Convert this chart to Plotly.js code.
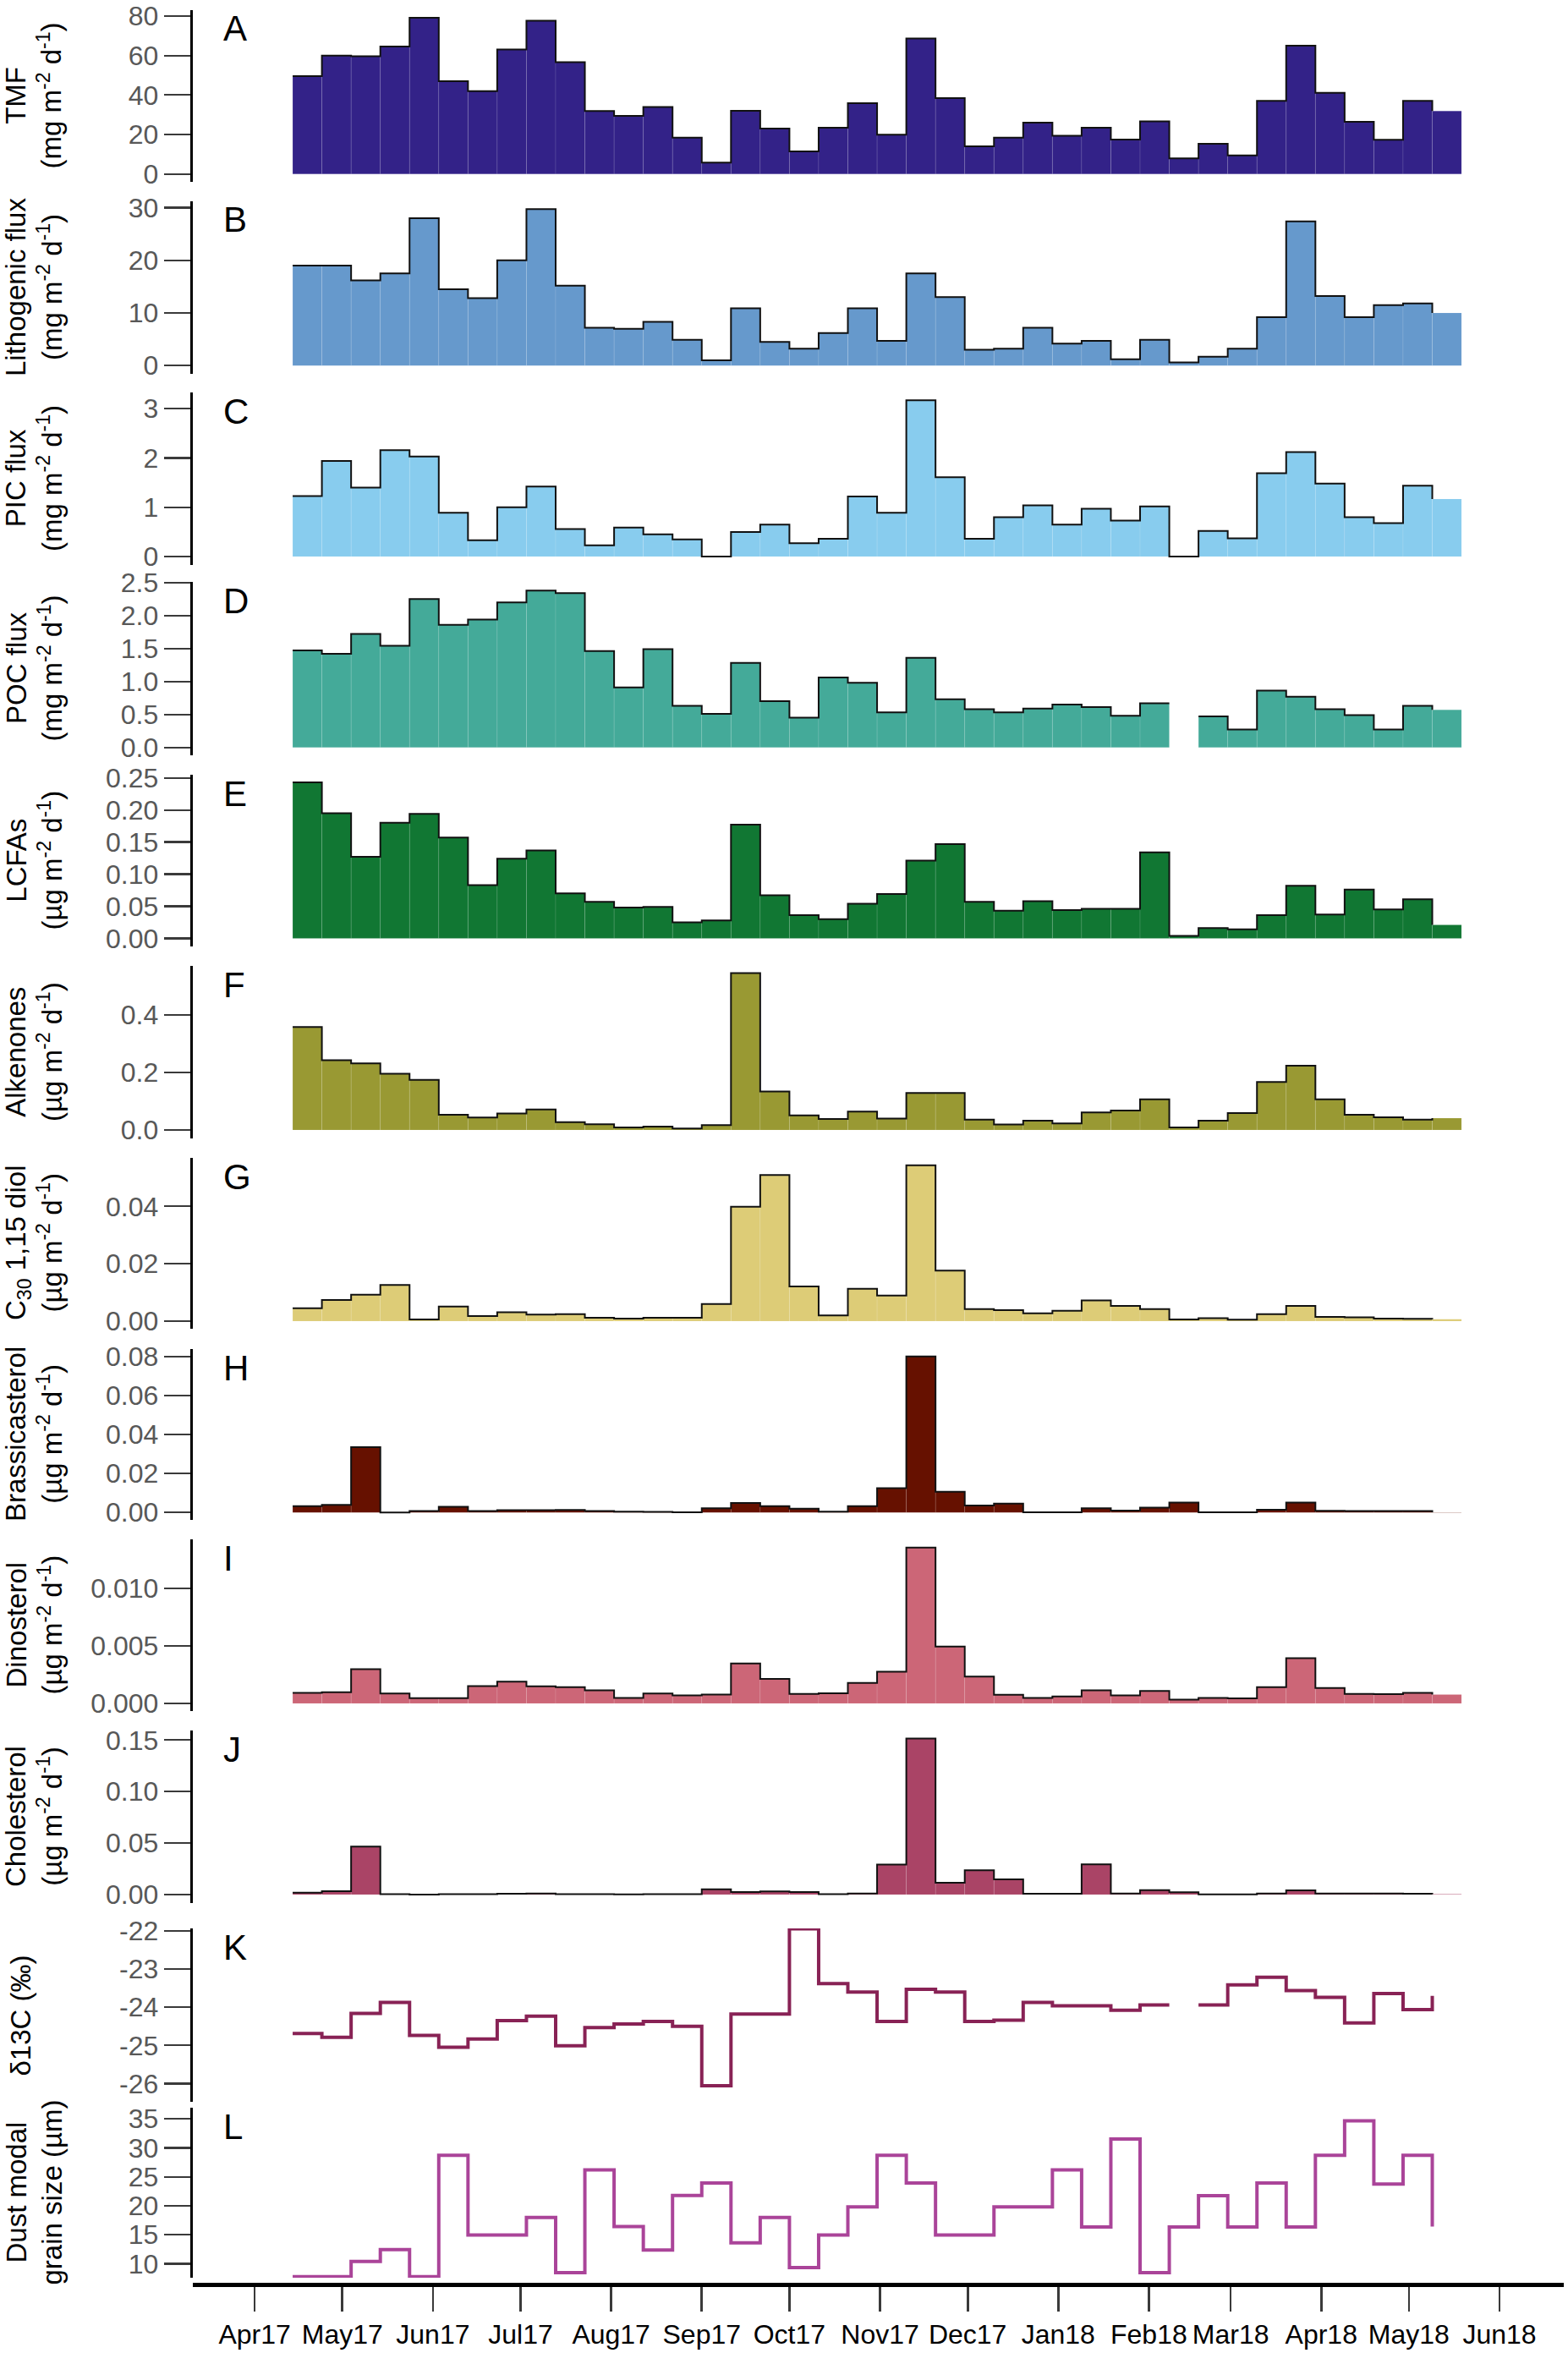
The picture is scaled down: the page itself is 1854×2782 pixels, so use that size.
<!DOCTYPE html>
<html>
<head>
<meta charset="utf-8">
<script src="https://cdn.plot.ly/plotly-3.0.1.min.js"></script>
<style>html,body{margin:0;padding:0;background:#fff;}#chart{width:1854px;height:2782px;}</style>
</head>
<body>
<div id="chart"></div>
<script>
// ---- sampling intervals (start dates of 10-day cups) ----
const binStarts = ['2017-04-14','2017-04-24','2017-05-04','2017-05-14','2017-05-24','2017-06-03','2017-06-13','2017-06-23',
  '2017-07-03','2017-07-13','2017-07-23','2017-08-02','2017-08-12','2017-08-22','2017-09-01','2017-09-11','2017-09-21',
  '2017-10-01','2017-10-11','2017-10-21','2017-10-31','2017-11-10','2017-11-20','2017-11-30','2017-12-10','2017-12-20',
  '2017-12-30','2018-01-09','2018-01-19','2018-01-29','2018-02-08','2018-02-18','2018-02-28','2018-03-10','2018-03-20',
  '2018-03-30','2018-04-09','2018-04-19','2018-04-29','2018-05-09'];

// ---- series values ----
const tmf = [49.6,60,59.6,64.6,79.1,47,42,63.1,77.6,56.6,31.9,29.4,33.9,18.4,5.7,32,23,11.4,23.4,35.9,19.9,68.6,38.4,14,18.4,26,19.4,23.4,17.4,26.6,7.9,15.3,9.4,37,65,41.1,26.4,17.3,37,31.9];
const lithogenic = [19.0,19.0,16.2,17.5,28.0,14.5,12.8,20.0,29.7,15.2,7.2,7.0,8.3,4.9,1.0,10.9,4.5,3.2,6.2,10.9,4.7,17.5,13.0,3.0,3.2,7.2,4.2,4.7,1.2,4.9,0.6,1.7,3.2,9.2,27.4,13.2,9.2,11.5,11.8,10.0];
const pic = [1.23,1.94,1.40,2.16,2.03,0.89,0.33,1.0,1.42,0.56,0.23,0.59,0.45,0.35,0.0,0.50,0.65,0.27,0.36,1.22,0.89,3.17,1.61,0.36,0.80,1.04,0.65,0.97,0.73,1.02,0.0,0.52,0.37,1.69,2.12,1.48,0.80,0.68,1.44,1.17];
const poc = [1.47,1.42,1.72,1.54,2.25,1.86,1.94,2.20,2.38,2.34,1.46,0.91,1.49,0.63,0.51,1.28,0.70,0.45,1.06,0.98,0.53,1.36,0.73,0.58,0.53,0.59,0.65,0.61,0.48,0.67,null,0.47,0.27,0.86,0.77,0.58,0.49,0.27,0.63,0.57];
const lcfas = [0.243,0.195,0.127,0.180,0.194,0.157,0.083,0.124,0.137,0.070,0.057,0.048,0.049,0.025,0.028,0.177,0.067,0.036,0.030,0.054,0.069,0.121,0.147,0.057,0.043,0.058,0.044,0.046,0.046,0.134,0.004,0.016,0.014,0.036,0.082,0.037,0.076,0.045,0.061,0.021];
const alkenones = [0.358,0.243,0.232,0.196,0.174,0.053,0.043,0.057,0.071,0.027,0.020,0.009,0.012,0.005,0.017,0.546,0.134,0.051,0.038,0.064,0.040,0.129,0.129,0.036,0.019,0.032,0.023,0.061,0.068,0.107,0.009,0.032,0.059,0.167,0.224,0.107,0.053,0.044,0.036,0.041];
const diol = [0.0045,0.0074,0.0092,0.0126,0.0006,0.0051,0.0018,0.0031,0.0023,0.0024,0.0012,0.0009,0.0012,0.0012,0.0060,0.0399,0.0509,0.0121,0.0020,0.0113,0.0089,0.0543,0.0176,0.0042,0.0038,0.0027,0.0036,0.0072,0.0053,0.0042,0.0006,0.0010,0.0005,0.0024,0.0053,0.0015,0.0013,0.0009,0.0008,0.0007];
const brassicasterol = [0.0032,0.0039,0.0335,0.0,0.0007,0.0029,0.0007,0.0012,0.0012,0.0013,0.0007,0.0004,0.0003,0.0001,0.0022,0.0049,0.0033,0.0019,0.0004,0.0032,0.0125,0.080,0.0106,0.0036,0.0046,0.0001,0.0001,0.0022,0.0010,0.0025,0.0051,0.0001,0.0001,0.0014,0.0051,0.0009,0.0007,0.0007,0.0007,0.0001];
const dinosterol = [0.00093,0.00098,0.00299,0.00086,0.00047,0.00047,0.00152,0.00189,0.0015,0.00142,0.00115,0.00049,0.00086,0.00071,0.00078,0.00348,0.00213,0.00083,0.00088,0.00179,0.00277,0.01358,0.00495,0.00235,0.00076,0.00049,0.00061,0.00115,0.00071,0.00108,0.00034,0.00049,0.00044,0.00142,0.00395,0.00135,0.00083,0.00081,0.00093,0.00078];
const cholesterol = [0.0019,0.0033,0.0467,0.0005,0.0,0.0005,0.0005,0.0008,0.0011,0.0005,0.0005,0.0003,0.0005,0.0005,0.0052,0.0025,0.0030,0.0025,0.0005,0.0011,0.0292,0.1516,0.0115,0.0236,0.0147,0.0008,0.0008,0.0293,0.0011,0.0044,0.0022,0.0003,0.0003,0.0011,0.0041,0.0011,0.0011,0.0011,0.0008,0.0005];
const d13c = [-24.69,-24.79,-24.16,-23.87,-24.74,-25.05,-24.83,-24.35,-24.23,-25.01,-24.53,-24.44,-24.37,-24.5,-26.06,-24.18,-24.18,-21.94,-23.38,-23.6,-24.37,-23.53,-23.6,-24.37,-24.34,-23.87,-23.96,-23.96,-24.08,-23.94,null,-23.94,-23.41,-23.21,-23.56,-23.74,-24.41,-23.64,-24.06,-23.7];
const grainSize = [7.77,7.77,10.39,12.43,7.77,28.74,14.95,14.95,18.0,8.45,26.2,16.4,12.38,21.8,23.93,13.6,18.0,9.32,14.95,19.8,28.74,23.93,14.95,14.95,19.8,19.8,26.2,16.36,31.55,8.45,16.36,21.75,16.36,23.93,16.36,28.74,34.66,23.74,28.74,16.4];

// ---- axis tick labels ----
const monthTicks = ['2017-04-01','2017-05-01','2017-06-01','2017-07-01','2017-08-01','2017-09-01','2017-10-01','2017-11-01',
  '2017-12-01','2018-01-01','2018-02-01','2018-03-01','2018-04-01','2018-05-01','2018-06-01'];
const monthLabels = ['Apr17','May17','Jun17','Jul17','Aug17','Sep17','Oct17','Nov17','Dec17','Jan18','Feb18','Mar18','Apr18','May18','Jun18'];
const panelLetters = ['A','B','C','D','E','F','G','H','I','J','K','L'];
const panelTitles = [
  'TMF<br>(mg m<sup>-2</sup> d<sup>-1</sup>)',
  'Lithogenic flux<br>(mg m<sup>-2</sup> d<sup>-1</sup>)',
  'PIC flux<br>(mg m<sup>-2</sup> d<sup>-1</sup>)',
  'POC flux<br>(mg m<sup>-2</sup> d<sup>-1</sup>)',
  'LCFAs<br>(µg m<sup>-2</sup> d<sup>-1</sup>)',
  'Alkenones<br>(µg m<sup>-2</sup> d<sup>-1</sup>)',
  'C<sub>30</sub> 1,15 diol<br>(µg m<sup>-2</sup> d<sup>-1</sup>)',
  'Brassicasterol<br>(µg m<sup>-2</sup> d<sup>-1</sup>)',
  'Dinosterol<br>(µg m<sup>-2</sup> d<sup>-1</sup>)',
  'Cholesterol<br>(µg m<sup>-2</sup> d<sup>-1</sup>)',
  'δ13C (‰)',
  'Dust modal<br>grain size (µm)'
];
const tickVals = [
  [0,20,40,60,80],[0,10,20,30],[0,1,2,3],[0,0.5,1,1.5,2,2.5],[0,0.05,0.1,0.15,0.2,0.25],[0,0.2,0.4],
  [0,0.02,0.04],[0,0.02,0.04,0.06,0.08],[0,0.005,0.01],[0,0.05,0.1,0.15],[-26,-25,-24,-23,-22],[10,15,20,25,30,35]
];
const tickText = [
  ['0','20','40','60','80'],['0','10','20','30'],['0','1','2','3'],['0.0','0.5','1.0','1.5','2.0','2.5'],
  ['0.00','0.05','0.10','0.15','0.20','0.25'],['0.0','0.2','0.4'],['0.00','0.02','0.04'],
  ['0.00','0.02','0.04','0.06','0.08'],['0.000','0.005','0.010'],['0.00','0.05','0.10','0.15'],
  ['-26','-25','-24','-23','-22'],['10','15','20','25','30','35']
];

// ---- styling / layout (not data) ----
const series = [tmf,lithogenic,pic,poc,lcfas,alkenones,diol,brassicasterol,dinosterol,cholesterol,d13c,grainSize];
const colors = ['#332288','#6699CC','#88CCEE','#44AA99','#117733','#999933','#DDCC77','#661100','#CC6677','#AA4466','#882255','#AA4499'];
const isBar = [true,true,true,true,true,true,true,true,true,true,false,false];
const yRanges = [[-4.0,83.0],[-1.56,31.2],[-0.17,3.33],[-0.12,2.51],[-0.0126,0.2549],[-0.0295,0.571],
  [-0.00265,0.0569],[-0.0038,0.0838],[-0.00066,0.01429],[-0.0082,0.1593],[-26.48,-21.93],[7.58,36.94]];
const pxBounds = [[12,215],[238,442],[464,668],[688,893],[916,1119],[1142,1346],[1369,1571],[1595,1797],[1820,2023],[2046,2250],[2280,2485],[2492,2693]];

const W = 1854, H = 2782, ML = 228, MR = 5, MT = 0, MB = 81;
const PH = H - MT - MB, PW = W - ML - MR;
const TXT = '"Liberation Sans", Arial, "DejaVu Sans", sans-serif';

function stepLine(vals){
  const xs = [], ys = [];
  for (let i = 0; i < vals.length; i++){
    xs.push(binStarts[i]); ys.push(vals[i]);
    if (vals[i] !== null && i + 1 < vals.length && vals[i+1] === null){
      xs.push(binStarts[i+1]); ys.push(vals[i]);
    }
  }
  return {xs, ys};
}

const traces = [];
const layout = {
  width: W, height: H,
  margin: {l: ML, r: MR, t: MT, b: MB, pad: 0},
  paper_bgcolor: '#fff', plot_bgcolor: 'rgba(0,0,0,0)',
  showlegend: false, barmode: 'overlay', bargap: 0,
  font: {family: TXT, color: '#000'},
  xaxis: {
    type: 'date', range: ['2017-03-10 20:00', '2018-06-23'],
    anchor: 'free', position: 0,
    showline: true, linewidth: 4.7, linecolor: '#000',
    ticks: 'outside', ticklen: 29, tickwidth: 2.7, tickcolor: '#3a3a3a',
    tickvals: monthTicks, ticktext: monthLabels,
    tickfont: {family: TXT, size: 32, color: '#000'},
    showgrid: false, zeroline: false
  },
  annotations: []
};

series.forEach((vals, k) => {
  const n = k + 1;
  const yname = n === 1 ? 'y' : 'y' + n;
  const yaxKey = n === 1 ? 'yaxis' : 'yaxis' + n;
  const [top, bot] = pxBounds[k];
  layout[yaxKey] = {
    domain: [(PH - (bot - MT)) / PH, (PH - (top - MT)) / PH],
    range: yRanges[k], anchor: 'x',
    showline: true, linewidth: 3.3, linecolor: '#000',
    ticks: 'outside', ticklen: 31, tickwidth: 2.3, tickcolor: '#3a3a3a',
    tickvals: tickVals[k], ticktext: tickText[k],
    tickfont: {family: TXT, size: 32, color: '#585858'},
    showgrid: false, zeroline: false, fixedrange: true
  };
  const st = stepLine(vals);
  if (isBar[k]){
    traces.push({
      type: 'bar', x: binStarts, y: vals, xaxis: 'x', yaxis: yname,
      width: 864e6, offset: 0,
      marker: {color: colors[k], line: {color: 'rgba(255,255,255,0.1)', width: 1}},
      hoverinfo: 'skip'
    });
    traces.push({
      type: 'scatter', mode: 'lines', x: st.xs, y: st.ys, xaxis: 'x', yaxis: yname,
      line: {shape: 'hv', color: '#111', width: 2}, connectgaps: false, hoverinfo: 'skip'
    });
  } else {
    traces.push({
      type: 'scatter', mode: 'lines', x: st.xs, y: st.ys, xaxis: 'x', yaxis: yname,
      line: {shape: 'hv', color: colors[k], width: 4}, connectgaps: false, hoverinfo: 'skip'
    });
  }
  const dh = bot - top;
  layout.annotations.push({
    text: panelLetters[k], xref: 'paper', yref: yname + ' domain',
    x: (262 - ML) / PW, y: 1 - 22 / dh, xanchor: 'left', yanchor: 'middle',
    showarrow: false, font: {family: TXT, size: 42, color: '#000'}
  });
  layout.annotations.push({
    text: panelTitles[k], xref: 'paper', yref: yname + ' domain',
    x: ((k === 10 ? 24 : 40) - ML) / PW, y: 0.5, xanchor: 'center', yanchor: 'middle',
    textangle: -90, showarrow: false, font: {family: TXT, size: 33, color: '#000'}
  });
});

Plotly.newPlot('chart', traces, layout, {displayModeBar: false, staticPlot: true});
</script>
</body>
</html>
